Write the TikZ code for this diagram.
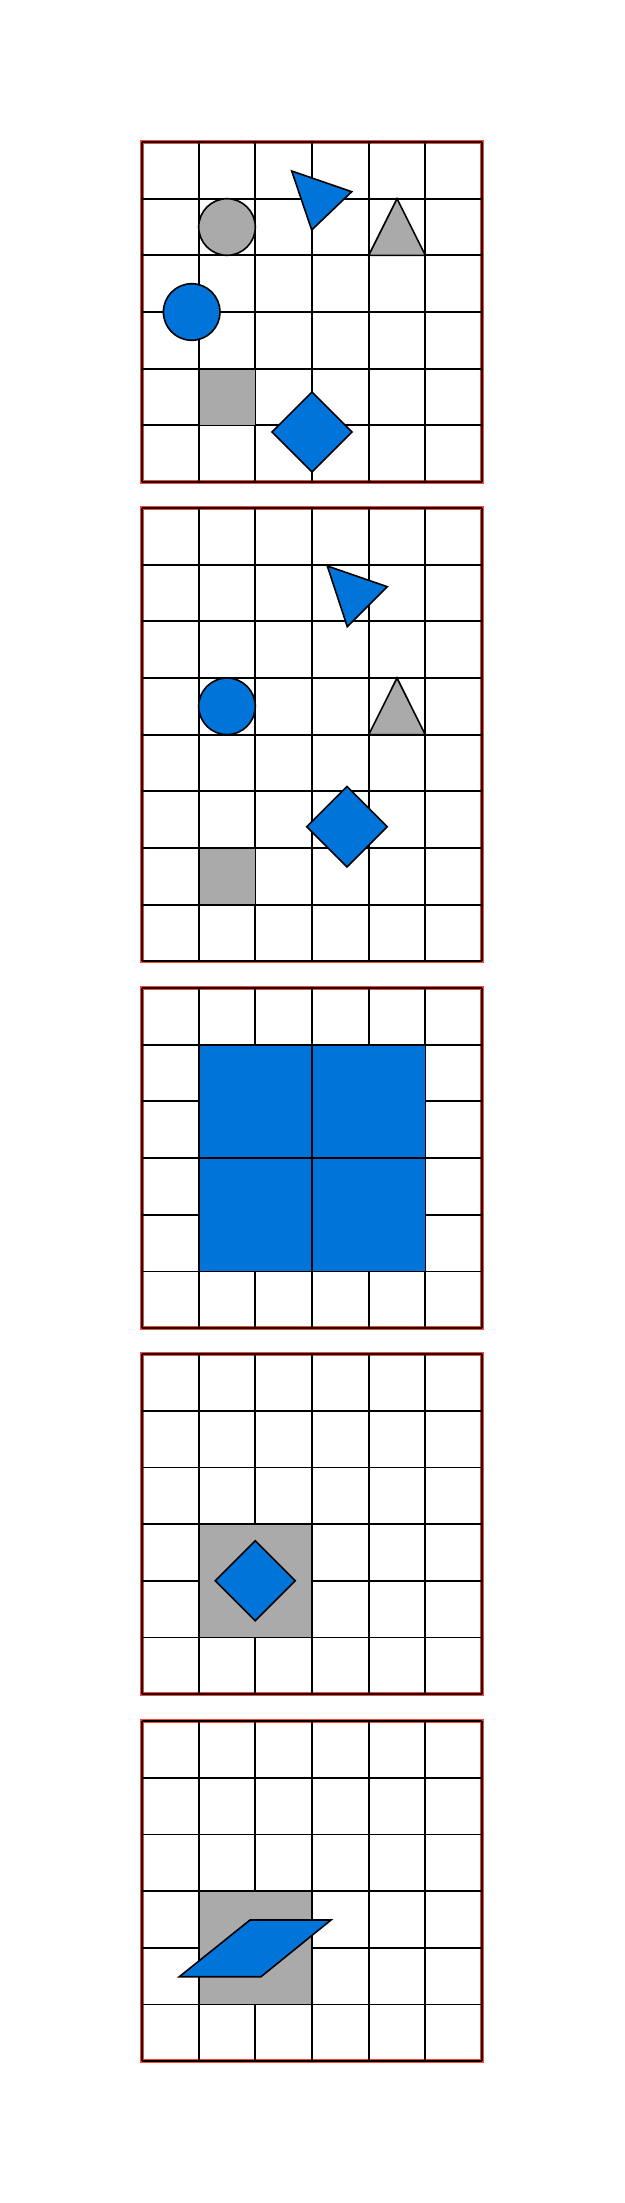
\documentclass[tikz,border=0pt]{standalone}
\definecolor{sblue}{HTML}{0074D9}
\definecolor{sgray}{HTML}{AAAAAA}
\definecolor{sred}{HTML}{FF4136}
\newcommand\mygrid[2]{%
  \draw[frame] (142,#1) rectangle (482,{#1+#2*56.667});
  \foreach \i in {0,...,6} \draw[gridline] ({142+\i*56.667},#1) -- ({142+\i*56.667},{#1+#2*56.667});
  \foreach \j in {0,...,#2} \draw[gridline] (142,{#1+\j*56.667}) -- (482,{#1+\j*56.667});
}
\begin{document}
\begin{tikzpicture}[x=1pt,y=-1pt,
  gridline/.style={line width=1.7pt,black},
  frame/.style={draw=sred,line width=3.2pt},
  bluefill/.style={fill=sblue,draw=black,line width=1.6pt,line join=miter},
  grayfill/.style={fill=sgray,draw=black,line width=1.6pt,line join=miter}]
\useasboundingbox (0,0) rectangle (624,2203);

% Grid 1
\mygrid{142}{6}
\filldraw[grayfill] (227,227) circle (28.3);
\filldraw[grayfill] (368.7,255.3) -- (425.3,255.3) -- (397,198.7) -- cycle;
\filldraw[bluefill] (291.7,171) -- (351.7,191.7) -- (311.7,230) -- cycle;
\filldraw[bluefill] (191.7,312) circle (28.3);
\filldraw[grayfill] (198.7,368.7) rectangle (255.3,425.3);
\filldraw[bluefill] (272,432) -- (312,392) -- (352,432) -- (312,472) -- cycle;

% Grid 2
\mygrid{508}{8}
\filldraw[bluefill] (327.3,566) -- (387.3,586.7) -- (347.3,626.7) -- cycle;
\filldraw[bluefill] (227,706.3) circle (28.3);
\filldraw[grayfill] (368.7,734.7) -- (425.3,734.7) -- (397,678) -- cycle;
\filldraw[bluefill] (306.7,826.7) -- (347,786.4) -- (387.3,826.7) -- (347,867) -- cycle;
\filldraw[grayfill] (198.7,848) rectangle (255.3,904.7);

% Grid 3
\mygrid{988}{6}
\filldraw[bluefill] (198.7,1044.7) rectangle (312,1158);
\filldraw[bluefill] (312,1044.7) rectangle (425.3,1158);
\filldraw[bluefill] (198.7,1158) rectangle (312,1271.3);
\filldraw[bluefill] (312,1158) rectangle (425.3,1271.3);

% Grid 4
\mygrid{1354}{6}
\filldraw[grayfill] (198.7,1524) rectangle (312,1637.3);
\filldraw[bluefill] (215.3,1580.7) -- (255.3,1540.7) -- (295.3,1580.7) -- (255.3,1620.7) -- cycle;

% Grid 5
\mygrid{1721}{6}
\filldraw[grayfill] (198.7,1891) rectangle (312,2004.3);
\filldraw[bluefill] (179.3,1976.7) -- (261,1976.7) -- (331,1920) -- (250,1920) -- cycle;
\end{tikzpicture}
\end{document}
